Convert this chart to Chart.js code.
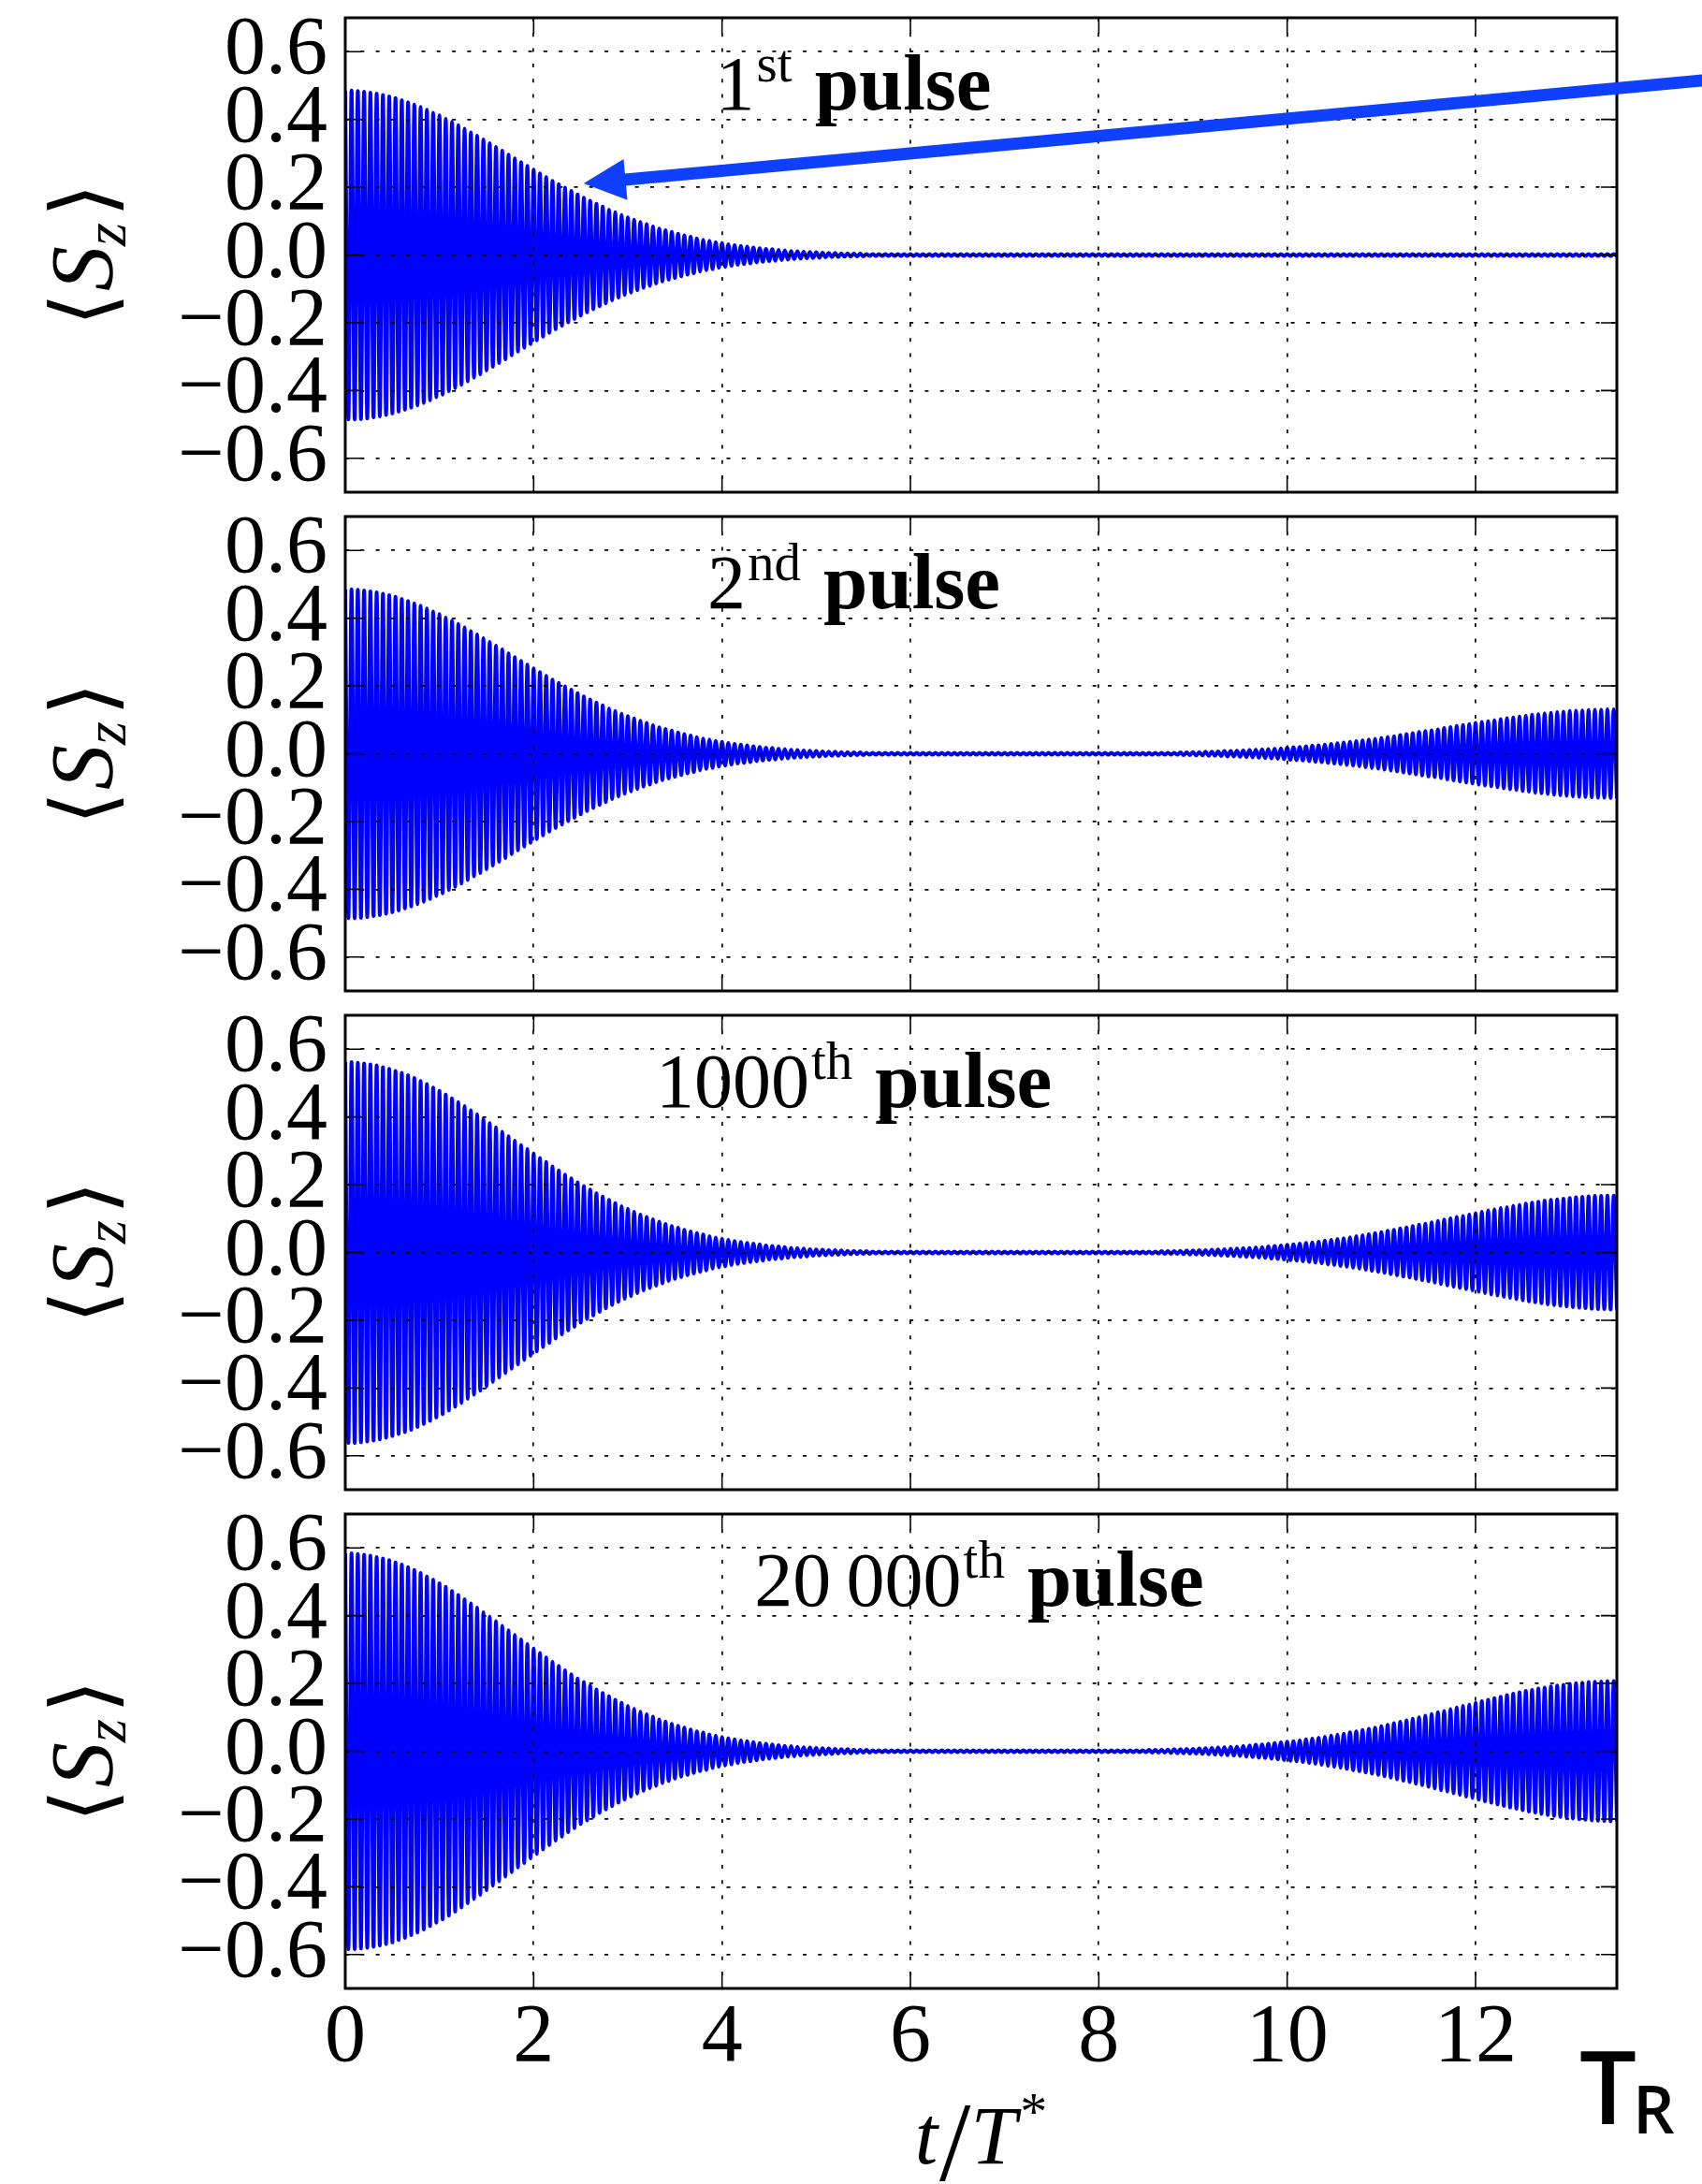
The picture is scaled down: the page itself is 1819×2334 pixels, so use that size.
<!DOCTYPE html>
<html>
<head>
<meta charset="utf-8">
<title>Sz pulses</title>
<style>
  html, body { margin: 0; padding: 0; background: #ffffff; }
  #wrap { position: relative; width: 1819px; height: 2334px; overflow: hidden; background: #fff; }
  canvas { position: absolute; left: 0; }
</style>
<script src="https://cdn.jsdelivr.net/npm/chart.js@4/dist/chart.umd.min.js"></script>
</head>
<body>
<div id="wrap">
  <canvas id="c0" width="1819" height="533" style="top:0px;width:1819px;height:533px"></canvas>
  <canvas id="c1" width="1819" height="533" style="top:533px;width:1819px;height:533px"></canvas>
  <canvas id="c2" width="1819" height="533" style="top:1066px;width:1819px;height:533px"></canvas>
  <canvas id="c3" width="1819" height="735" style="top:1599px;width:1819px;height:735px"></canvas>
</div>
<script>
// ---------------- data ----------------
const xTickValues = [0, 2, 4, 6, 8, 10, 12];
const yTickValues = [-0.6, -0.4, -0.2, 0.0, 0.2, 0.4, 0.6];
const xRange = [0, 13.5];
const yRange = [-0.7, 0.7];
const pulseNumbers = ['1', '2', '1000', '20\u2009000'];
const pulseSuffixes = ['st', 'nd', 'th', 'th'];
const pulseWord = 'pulse';
const oscillationsPerUnit = 15;   // oscillation periods per unit of t/T*

// amplitude of each oscillation period (one value per period, t = 0 ... 13.5)
const amp1st = [
 0.485,0.485,0.484,0.482,0.479,0.476,0.472,0.468,0.463,0.457,
 0.451,0.444,0.437,0.429,0.420,0.412,0.402,0.393,0.383,0.373,
 0.362,0.352,0.341,0.330,0.319,0.308,0.296,0.285,0.274,0.263,
 0.252,0.241,0.230,0.219,0.209,0.199,0.189,0.179,0.169,0.160,
 0.151,0.143,0.134,0.126,0.118,0.111,0.104,0.097,0.091,0.084,
 0.078,0.073,0.068,0.063,0.058,0.054,0.049,0.045,0.042,0.038,
 0.035,0.032,0.029,0.027,0.025,0.022,0.020,0.018,0.017,0.015,
 0.014,0.012,0.011,0.010,0.009,0.008,0.007,0.006,0.006,0.005,
 0.005,0.004,0.004,0.003,0.003,0.003,0.003,0.003,0.003,0.003,
 0.003,0.003,0.003,0.003,0.003,0.003,0.003,0.003,0.003,0.003,
 0.003,0.003,0.003,0.003,0.003,0.003,0.003,0.003,0.003,0.003,
 0.003,0.003,0.003,0.003,0.003,0.003,0.003,0.003,0.003,0.003,
 0.003,0.003,0.003,0.003,0.003,0.003,0.003,0.003,0.003,0.003,
 0.003,0.003,0.003,0.003,0.003,0.003,0.003,0.003,0.003,0.003,
 0.003,0.003,0.003,0.003,0.003,0.003,0.003,0.003,0.003,0.003,
 0.003,0.003,0.003,0.003,0.003,0.003,0.003,0.003,0.003,0.003,
 0.003,0.003,0.003,0.003,0.003,0.003,0.003,0.003,0.003,0.003,
 0.003,0.003,0.003,0.003,0.003,0.003,0.003,0.003,0.003,0.003,
 0.003,0.003,0.003,0.003,0.003,0.003,0.003,0.003,0.003,0.003,
 0.003,0.003,0.003,0.003,0.003,0.003,0.003,0.003,0.003,0.003,
 0.003,0.003,0.003
];
const amp2nd = [
 0.485,0.485,0.484,0.482,0.479,0.476,0.472,0.468,0.463,0.457,
 0.451,0.444,0.437,0.429,0.420,0.412,0.402,0.393,0.383,0.373,
 0.362,0.352,0.341,0.330,0.319,0.308,0.296,0.285,0.274,0.263,
 0.252,0.241,0.230,0.219,0.209,0.199,0.189,0.179,0.169,0.160,
 0.151,0.143,0.134,0.126,0.118,0.111,0.104,0.097,0.091,0.084,
 0.078,0.073,0.068,0.063,0.058,0.054,0.049,0.045,0.042,0.038,
 0.035,0.032,0.029,0.027,0.025,0.022,0.020,0.018,0.017,0.015,
 0.014,0.012,0.011,0.010,0.009,0.008,0.007,0.006,0.006,0.005,
 0.005,0.004,0.004,0.003,0.003,0.003,0.003,0.003,0.003,0.003,
 0.003,0.003,0.003,0.003,0.003,0.003,0.003,0.003,0.003,0.003,
 0.003,0.003,0.003,0.003,0.003,0.003,0.003,0.003,0.003,0.003,
 0.003,0.003,0.003,0.003,0.003,0.003,0.003,0.003,0.003,0.003,
 0.003,0.003,0.003,0.003,0.003,0.003,0.003,0.003,0.003,0.003,
 0.003,0.003,0.003,0.004,0.004,0.005,0.005,0.006,0.006,0.007,
 0.008,0.008,0.009,0.010,0.011,0.012,0.013,0.014,0.015,0.016,
 0.018,0.019,0.020,0.022,0.024,0.025,0.027,0.029,0.031,0.033,
 0.035,0.037,0.040,0.042,0.044,0.047,0.050,0.052,0.055,0.058,
 0.061,0.064,0.067,0.069,0.072,0.076,0.079,0.082,0.085,0.088,
 0.091,0.094,0.096,0.099,0.102,0.105,0.107,0.110,0.112,0.115,
 0.117,0.119,0.121,0.123,0.124,0.126,0.127,0.128,0.129,0.130,
 0.130,0.131,0.131
];
const amp1000th = [
 0.562,0.562,0.560,0.558,0.555,0.552,0.547,0.542,0.536,0.530,
 0.523,0.515,0.506,0.497,0.487,0.477,0.466,0.455,0.444,0.432,
 0.420,0.408,0.395,0.382,0.369,0.356,0.343,0.330,0.317,0.305,
 0.292,0.279,0.267,0.254,0.242,0.230,0.219,0.207,0.196,0.186,
 0.175,0.165,0.155,0.146,0.137,0.129,0.120,0.112,0.105,0.098,
 0.091,0.084,0.078,0.073,0.067,0.062,0.057,0.053,0.048,0.044,
 0.041,0.037,0.034,0.031,0.028,0.026,0.024,0.021,0.019,0.018,
 0.016,0.014,0.013,0.012,0.010,0.009,0.008,0.007,0.007,0.006,
 0.005,0.005,0.004,0.004,0.003,0.003,0.003,0.003,0.003,0.003,
 0.003,0.003,0.003,0.003,0.003,0.003,0.003,0.003,0.003,0.003,
 0.003,0.003,0.003,0.003,0.003,0.003,0.003,0.003,0.003,0.003,
 0.003,0.003,0.003,0.003,0.003,0.003,0.003,0.003,0.003,0.003,
 0.003,0.003,0.003,0.003,0.003,0.003,0.003,0.003,0.003,0.003,
 0.004,0.004,0.004,0.005,0.006,0.006,0.007,0.007,0.008,0.009,
 0.010,0.011,0.012,0.013,0.014,0.015,0.016,0.018,0.019,0.021,
 0.023,0.024,0.026,0.028,0.030,0.032,0.035,0.037,0.040,0.042,
 0.045,0.048,0.051,0.054,0.057,0.060,0.064,0.067,0.071,0.074,
 0.078,0.082,0.085,0.089,0.093,0.097,0.101,0.105,0.108,0.112,
 0.116,0.120,0.124,0.127,0.131,0.134,0.138,0.141,0.144,0.147,
 0.150,0.153,0.155,0.157,0.159,0.161,0.163,0.164,0.166,0.167,
 0.167,0.168,0.168
];
const amp20000th = [
 0.584,0.584,0.582,0.580,0.577,0.573,0.569,0.564,0.557,0.551,
 0.543,0.535,0.526,0.516,0.506,0.496,0.485,0.473,0.461,0.449,
 0.436,0.424,0.410,0.397,0.384,0.370,0.357,0.343,0.330,0.316,
 0.303,0.290,0.277,0.264,0.252,0.239,0.227,0.215,0.204,0.193,
 0.182,0.172,0.162,0.152,0.143,0.134,0.125,0.117,0.109,0.102,
 0.094,0.088,0.081,0.075,0.070,0.064,0.059,0.055,0.050,0.046,
 0.042,0.039,0.035,0.032,0.030,0.027,0.024,0.022,0.020,0.018,
 0.016,0.015,0.013,0.012,0.011,0.010,0.009,0.008,0.007,0.006,
 0.006,0.005,0.004,0.004,0.003,0.003,0.003,0.003,0.003,0.003,
 0.003,0.003,0.003,0.003,0.003,0.003,0.003,0.003,0.003,0.003,
 0.003,0.003,0.003,0.003,0.003,0.003,0.003,0.003,0.003,0.003,
 0.003,0.003,0.003,0.003,0.003,0.003,0.003,0.003,0.003,0.003,
 0.003,0.003,0.003,0.003,0.003,0.003,0.003,0.003,0.004,0.004,
 0.004,0.005,0.006,0.006,0.007,0.007,0.008,0.009,0.010,0.011,
 0.012,0.013,0.014,0.016,0.017,0.019,0.020,0.022,0.024,0.026,
 0.028,0.030,0.032,0.035,0.037,0.040,0.043,0.046,0.049,0.052,
 0.056,0.059,0.063,0.066,0.070,0.074,0.078,0.083,0.087,0.091,
 0.096,0.100,0.105,0.110,0.115,0.119,0.124,0.129,0.134,0.138,
 0.143,0.148,0.152,0.157,0.161,0.166,0.170,0.174,0.178,0.181,
 0.185,0.188,0.191,0.194,0.196,0.199,0.201,0.202,0.204,0.205,
 0.206,0.207,0.207
];

// annotation anchors (data coordinates)
const labelAnchorX = [5.4, 5.4, 5.4, 6.73];
const labelAnchorY = 0.43;
const arrowTip = [2.53, 0.211];
const arrowTail = [14.6, 0.52];

// ---------------- styles ----------------
const SERIF = '"Liberation Serif", "DejaVu Serif", serif';
const SANS = '"Open Sans", "Liberation Sans", "DejaVu Sans", sans-serif';
const LINE_COLOR = '#0000ff';
const ARROW_COLOR = '#1040ff';
const TICK_LEN = 17;
const GRID_DASH = [4, 12.3];

function series(amps) {
  const pts = [];
  const half = 1 / (2 * oscillationsPerUnit);
  amps.forEach((a, k) => {
    pts.push({ x: 2 * k * half, y: a });
    pts.push({ x: (2 * k + 1) * half, y: -a });
  });
  return pts;
}

function drawRuns(ctx, runs, x, y, align) {
  let w = 0;
  runs.forEach(r => { ctx.font = r.font; r.w = ctx.measureText(r.text).width + (r.gap || 0); w += r.w; });
  let cx = align === 'center' ? x - w / 2 : (align === 'right' ? x - w : x);
  runs.forEach(r => { ctx.font = r.font; ctx.fillText(r.text, cx, y + (r.dy || 0)); cx += r.w; });
}

function decorPlugin(idx, isLast) {
  return {
    id: 'decor' + idx,
    afterDraw(chart) {
      const { ctx, chartArea: a, scales: { x, y } } = chart;
      ctx.save();
      // inward ticks on all four sides
      ctx.strokeStyle = '#000';
      ctx.lineWidth = 1.6;
      ctx.beginPath();
      xTickValues.forEach(v => {
        const px = x.getPixelForValue(v);
        ctx.moveTo(px, a.bottom); ctx.lineTo(px, a.bottom - TICK_LEN);
        ctx.moveTo(px, a.top); ctx.lineTo(px, a.top + TICK_LEN);
      });
      yTickValues.forEach(v => {
        const py = y.getPixelForValue(v);
        ctx.moveTo(a.left, py); ctx.lineTo(a.left + TICK_LEN, py);
        ctx.moveTo(a.right, py); ctx.lineTo(a.right - TICK_LEN, py);
      });
      ctx.stroke();
      // frame
      ctx.lineWidth = 3;
      ctx.strokeRect(a.left, a.top, a.right - a.left, a.bottom - a.top);

      // panel annotation
      ctx.fillStyle = '#000';
      ctx.textBaseline = 'alphabetic';
      drawRuns(ctx, [
        { text: pulseNumbers[idx], font: `82px ${SERIF}`, gap: 2 },
        { text: pulseSuffixes[idx], font: `57px ${SERIF}`, dy: -30, gap: 24 },
        { text: pulseWord, font: `bold 85px ${SERIF}` }
      ], x.getPixelForValue(labelAnchorX[idx]), y.getPixelForValue(labelAnchorY), 'center');

      // y axis title  <S_z>
      ctx.save();
      ctx.translate(95, (a.top + a.bottom) / 2);
      ctx.rotate(-Math.PI / 2);
      drawRuns(ctx, [
        { text: '\u27E8', font: `92px ${SERIF}`, gap: 2 },
        { text: 'S', font: `italic 96px ${SERIF}` },
        { text: 'z', font: `italic 64px ${SERIF}`, dy: 14, gap: 6 },
        { text: '\u27E9', font: `92px ${SERIF}` }
      ], 0, 25, 'center');
      ctx.restore();

      if (idx === 0) {
        // arrow
        const tx = x.getPixelForValue(arrowTip[0]), ty = y.getPixelForValue(arrowTip[1]);
        const ex = x.getPixelForValue(arrowTail[0]), ey = y.getPixelForValue(arrowTail[1]);
        const len = Math.hypot(ex - tx, ey - ty);
        const ang = Math.atan2(ey - ty, ex - tx);
        const headLen = 45, headHalf = 22, shaft = 13;
        ctx.save();
        ctx.translate(tx, ty);
        ctx.rotate(ang);
        ctx.fillStyle = ARROW_COLOR;
        ctx.beginPath();
        ctx.moveTo(0, 0);
        ctx.lineTo(headLen, -headHalf);
        ctx.lineTo(headLen, -shaft / 2);
        ctx.lineTo(len, -shaft / 2);
        ctx.lineTo(len, shaft / 2);
        ctx.lineTo(headLen, shaft / 2);
        ctx.lineTo(headLen, headHalf);
        ctx.closePath();
        ctx.fill();
        ctx.restore();
      }

      if (isLast) {
        // x axis title  t/T*
        ctx.fillStyle = '#000';
        drawRuns(ctx, [
          { text: 't', font: `italic 88px ${SERIF}`, gap: 2 },
          { text: '/', font: `120px ${SERIF}`, dy: 18, gap: 0 },
          { text: 'T', font: `italic 88px ${SERIF}`, gap: 4 },
          { text: '*', font: `58px ${SERIF}`, dy: -36 }
        ], (a.left + a.right) / 2, a.bottom + 187, 'center');
        // T_R marker
        const rx = x.getPixelForValue(xRange[1]);
        ctx.font = `600 108px ${SANS}`;
        ctx.textAlign = 'left';
        ctx.fillText('T', rx - 40, a.bottom + 145);
        const tw = ctx.measureText('T').width;
        ctx.font = `600 70px ${SANS}`;
        ctx.fillText('R', rx - 40 + tw - 4, a.bottom + 155);
      }
      ctx.restore();
    }
  };
}

const panels = [
  { id: 'c0', amps: amp1st },
  { id: 'c1', amps: amp2nd },
  { id: 'c2', amps: amp1000th },
  { id: 'c3', amps: amp20000th }
];

panels.forEach((p, idx) => {
  const isLast = idx === panels.length - 1;
  new Chart(document.getElementById(p.id), {
    type: 'line',
    data: {
      datasets: [{
        data: series(p.amps),
        borderColor: LINE_COLOR,
        borderWidth: 4,
        pointRadius: 0,
        cubicInterpolationMode: 'monotone',
        fill: false
      }]
    },
    options: {
      responsive: false,
      animation: false,
      events: [],
      layout: { autoPadding: false, padding: { left: 0, right: 91, top: 19, bottom: isLast ? 0 : 7 } },
      plugins: { legend: { display: false }, tooltip: { enabled: false }, title: { display: false } },
      scales: {
        x: {
          type: 'linear', position: 'bottom', min: xRange[0], max: xRange[1],
          afterBuildTicks: s => { s.ticks = xTickValues.map(v => ({ value: v })); },
          afterFit: s => { s.height = isLast ? 209 : 0; s.paddingLeft = 0; s.paddingRight = 0; },
          grid: { color: '#000', lineWidth: 1.7, drawTicks: false, z: 1, borderDash: GRID_DASH },
          border: { display: false, dash: GRID_DASH },
          ticks: {
            display: isLast, padding: 10, color: '#000', maxRotation: 0, autoSkip: false,
            font: { family: SERIF, size: 88, lineHeight: 1 },
            callback: v => String(v)
          }
        },
        y: {
          type: 'linear', position: 'left', min: yRange[0], max: yRange[1],
          afterBuildTicks: s => { s.ticks = yTickValues.map(v => ({ value: v })); },
          afterFit: s => { s.width = 369; s.paddingTop = 0; s.paddingBottom = 0; },
          grid: { color: '#000', lineWidth: 1.7, drawTicks: false, z: 1, borderDash: GRID_DASH },
          border: { display: false, dash: GRID_DASH },
          ticks: {
            padding: 19, color: '#000', autoSkip: false,
            font: { family: SERIF, size: 88, lineHeight: 1 },
            callback: v => (v < 0 ? '\u2212' : '') + Math.abs(v).toFixed(1)
          }
        }
      }
    },
    plugins: [decorPlugin(idx, isLast)]
  });
});
</script>
</body>
</html>
